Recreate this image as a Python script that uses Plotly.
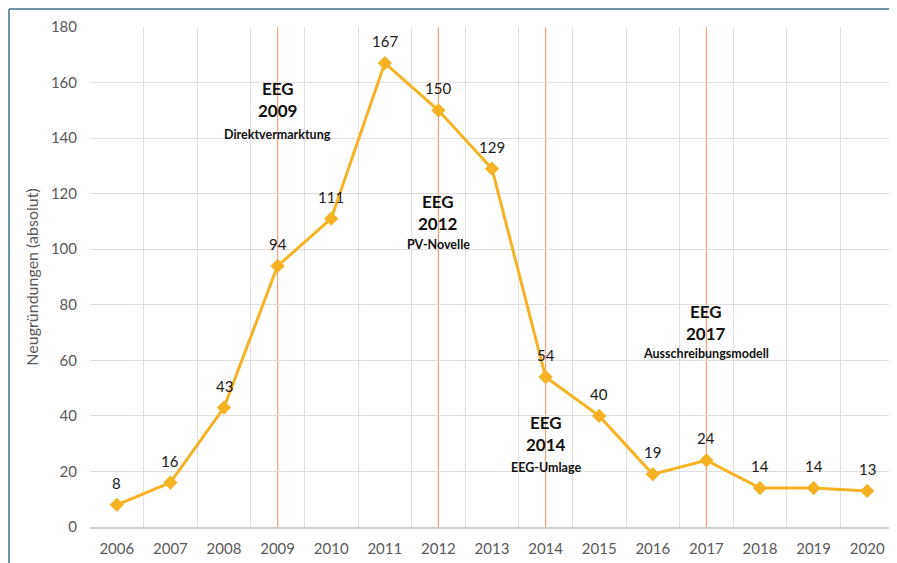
import plotly.graph_objects as go

years = [str(y) for y in range(2006, 2021)]
values = [8, 16, 43, 94, 111, 167, 150, 129, 54, 40, 19, 24, 14, 14, 13]
y_ticks = [0, 20, 40, 60, 80, 100, 120, 140, 160, 180]

eeg_years = ["2009", "2012", "2014", "2017"]
eeg_titles = ["EEG<br>2009", "EEG<br>2012", "EEG<br>2014", "EEG<br>2017"]
eeg_subtitles = ["Direktvermarktung", "PV-Novelle", "EEG-Umlage", "Ausschreibungsmodell"]
eeg_title_y = [153.8, 113.3, 33.7, 73.6]
eeg_sub_y = [141.3, 101.7, 21.4, 62.6]

LINE = "#F5B324"
FONT = "Lato"

# page has an 8px body margin; plot area placed accordingly
L, T, PW, PH = 82, 19, 804, 500
W, H = 889, 555

fig = go.Figure()
fig.add_trace(go.Scatter(
    x=years, y=values, mode="lines+markers",
    line=dict(color=LINE, width=3),
    marker=dict(symbol="diamond", size=11, color=LINE),
    hoverinfo="skip", showlegend=False,
))

annotations = []
for i, v in enumerate(values):
    annotations.append(dict(x=i, y=v, xref="x", yref="y", text=str(v), showarrow=False,
                            yshift=22, font=dict(family=FONT, size=15, color="#1a1a1a")))
for x, t, ty, s, sy in zip(eeg_years, eeg_titles, eeg_title_y, eeg_subtitles, eeg_sub_y):
    i = years.index(x)
    annotations.append(dict(x=i, y=ty, xref="x", yref="y", text="<b>" + t + "</b>",
                            showarrow=False,
                            font=dict(family=FONT, size=17, color="#111111")))
    annotations.append(dict(x=i, y=sy, xref="x", yref="y", text="<b>" + s + "</b>",
                            showarrow=False,
                            font=dict(family=FONT, size=12.5, color="#111111")))

shapes = []
for x in eeg_years:
    i = years.index(x)
    shapes.append(dict(type="line", xref="x", yref="y", x0=i, x1=i, y0=0, y1=180,
                       line=dict(color="#F4A27A", width=1.2), layer="below"))
# outer frame (left and top edges only visible in the picture)
fx0 = (1 - L) / PW
fy1 = (PH + T - 1) / PH
shapes.append(dict(type="line", xref="paper", yref="paper", x0=fx0, x1=1.2, y0=fy1, y1=fy1,
                   line=dict(color="#6F93A8", width=2), layer="above"))
shapes.append(dict(type="line", xref="paper", yref="paper", x0=fx0, x1=fx0, y0=-0.3, y1=fy1,
                   line=dict(color="#6F93A8", width=2), layer="above"))

fig.update_layout(
    width=W, height=H,
    margin=dict(l=L, r=W - L - PW, t=T, b=H - T - PH, autoexpand=False),
    paper_bgcolor="white", plot_bgcolor="white",
    font=dict(family=FONT, color="#595959"),
    annotations=annotations, shapes=shapes,
    xaxis=dict(type="category", tickson="boundaries", showgrid=True, automargin=False,
               gridcolor="#E3DDDD", gridwidth=1, ticks="", showline=True,
               linecolor="#D0D0D0", linewidth=1.5, ticklabelstandoff=7,
               tickfont=dict(family=FONT, size=15, color="#595959"),
               range=[-0.5, 14.5]),
    yaxis=dict(range=[0, 180], tickvals=y_ticks, showgrid=True, automargin=False,
               gridcolor="#E3DDDD", gridwidth=1, zeroline=False, ticks="",
               ticklabelstandoff=12,
               tickfont=dict(family=FONT, size=15, color="#595959"),
               title=dict(text="Neugründungen (absolut)", standoff=8,
                          font=dict(family=FONT, size=16, color="#595959"))),
)

fig.write_html("out.html")
